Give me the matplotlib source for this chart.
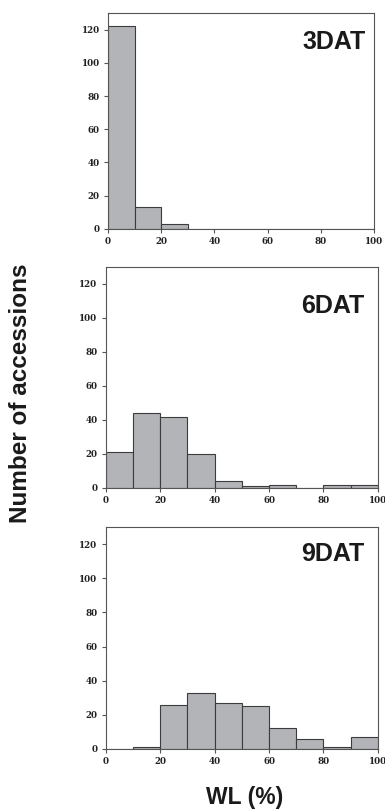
import numpy as np
import matplotlib
matplotlib.use('Agg')
import matplotlib.pyplot as plt

# histogram bins (WL %), width 10
bin_edges = [0, 10, 20, 30, 40, 50, 60, 70, 80, 90, 100]
panel_names = ['3DAT', '6DAT', '9DAT']

counts_3dat = [122, 13, 3, 0, 0, 0, 0, 0, 0, 0]
counts_6dat = [21, 44, 42, 20, 4, 1, 2, 0, 2, 2]
counts_9dat = [0, 1, 26, 33, 27, 25, 12, 6, 1, 7]

x_ticks = [0, 20, 40, 60, 80, 100]
y_ticks = [0, 20, 40, 60, 80, 100, 120]

bar_color = '#b3b4b8'
edge_color = '#3c3c3c'
spine_color = '#555555'

fig = plt.figure(figsize=(3.85, 8.09), dpi=100)

# axes boxes [left, bottom, width, height] in figure fraction
boxes = [
    [0.2805, 0.717, 0.691, 0.267],
    [0.275, 0.3968, 0.7065, 0.2732],
    [0.275, 0.0742, 0.7065, 0.2744],
]
label_pos = [(0.97, 0.866), (0.952, 0.824), (0.952, 0.878)]

all_counts = [counts_3dat, counts_6dat, counts_9dat]
lefts = np.array(bin_edges[:-1])
widths = np.diff(bin_edges)

for box, name, counts, (tx, ty) in zip(boxes, panel_names, all_counts, label_pos):
    ax = fig.add_axes(box)
    ax.bar(lefts, counts, width=widths, align='edge', color=bar_color,
           edgecolor=edge_color, linewidth=0.8)
    ax.set_xlim(0, 100)
    ax.set_ylim(0, 130)
    ax.set_xticks(x_ticks)
    ax.set_yticks(y_ticks)
    for s in ax.spines.values():
        s.set_color(spine_color)
        s.set_linewidth(0.8)
    ax.tick_params(direction='out', length=3, width=0.8, color=spine_color,
                   labelsize=6.3, pad=3, labelcolor='#222222')
    for lab in ax.get_xticklabels() + ax.get_yticklabels():
        lab.set_family('DejaVu Serif')
        lab.set_fontweight('bold')
    ax.text(tx, ty, name, transform=ax.transAxes, ha='right', va='center',
            fontsize=18, fontweight='bold', family='Liberation Sans', color='#1a1a1a')

fig.text(0.052, 0.5136, 'Number of accessions', rotation=90, ha='center', va='center',
         fontsize=17.5, fontweight='bold', family='Liberation Sans', color='#1a1a1a')
fig.text(0.636, 0.014, 'WL (%)', ha='center', va='center',
         fontsize=16.5, fontweight='bold', family='Liberation Sans', color='#1a1a1a')

fig.savefig('out.png', dpi=100)
